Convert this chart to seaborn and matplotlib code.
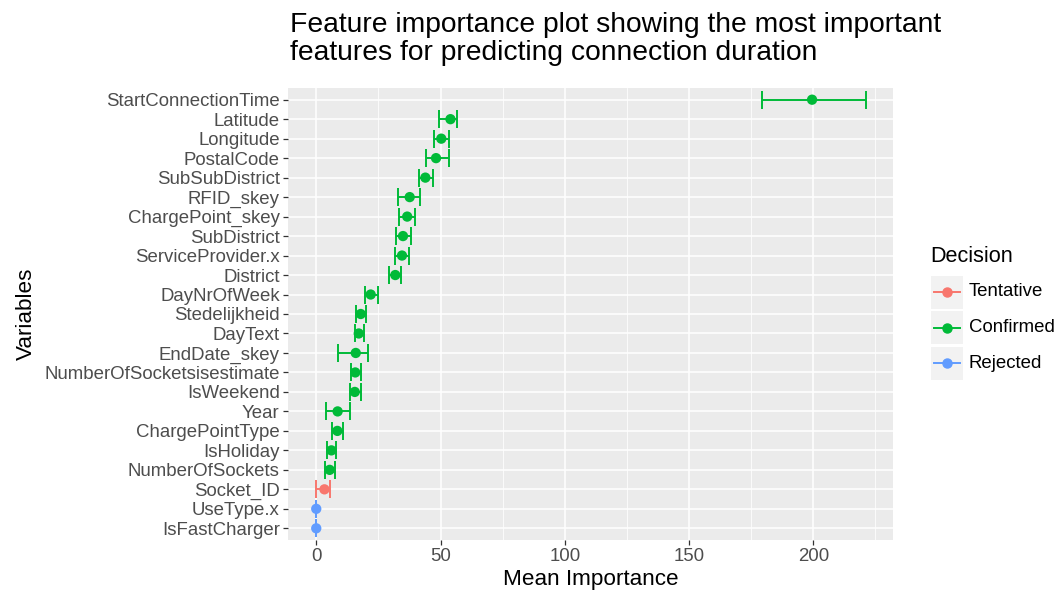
import numpy as np
import matplotlib
matplotlib.use("Agg")
import matplotlib.pyplot as plt
import seaborn as sns
import pandas as pd
from matplotlib.lines import Line2D
from matplotlib.patches import Rectangle

# features ordered from top to bottom of the plot
variables = ["StartConnectionTime", "Latitude", "Longitude", "PostalCode",
             "SubSubDistrict", "RFID_skey", "ChargePoint_skey", "SubDistrict",
             "ServiceProvider.x", "District", "DayNrOfWeek", "Stedelijkheid",
             "DayText", "EndDate_skey", "NumberOfSocketsisestimate", "IsWeekend",
             "Year", "ChargePointType", "IsHoliday", "NumberOfSockets",
             "Socket_ID", "UseType.x", "IsFastCharger"]
mean_imp = [199.5, 54.0, 50.3, 48.2, 43.9, 37.6, 36.6, 34.9, 34.5, 31.8, 21.9,
            17.9, 17.1, 15.9, 15.7, 15.5, 8.6, 8.5, 6.1, 5.4, 3.3, 0.0, 0.0]
low_imp = [179.5, 49.2, 47.4, 44.3, 41.5, 32.8, 33.4, 32.1, 31.8, 29.1, 19.5,
           16.1, 15.6, 8.8, 13.9, 13.6, 3.8, 6.4, 4.5, 3.7, -0.3, 0.0, 0.0]
high_imp = [221.0, 56.6, 53.3, 53.3, 46.8, 41.9, 39.9, 38.1, 37.2, 34.2, 24.9,
            20.0, 19.1, 20.7, 17.9, 17.9, 13.6, 10.7, 8.0, 7.7, 5.4, 0.0, 0.0]
decision = ["Confirmed"] * 20 + ["Tentative", "Rejected", "Rejected"]

decision_levels = ["Tentative", "Confirmed", "Rejected"]
palette = {"Tentative": "#F8766D", "Confirmed": "#00BA38", "Rejected": "#619CFF"}

df = pd.DataFrame({"var": variables, "mean": mean_imp, "low": low_imp,
                   "high": high_imp, "Decision": decision})
df["pos"] = np.arange(len(df))[::-1]

plt.rcParams["font.family"] = ["Liberation Sans", "DejaVu Sans"]

fig = plt.figure(figsize=(10.58, 5.95), dpi=100)
ax = fig.add_axes([288 / 1058, 1 - 540 / 595, (893 - 288) / 1058, (540 - 88) / 595])
ax.set_facecolor("#EBEBEB")

for lvl in decision_levels:
    d = df[df["Decision"] == lvl]
    ax.errorbar(d["mean"], d["pos"],
                xerr=[d["mean"] - d["low"], d["high"] - d["mean"]],
                fmt="none", ecolor=palette[lvl], elinewidth=1.4,
                capsize=6.5, capthick=1.4, zorder=3)

sns.scatterplot(data=df, x="mean", y="pos", hue="Decision",
                hue_order=decision_levels, palette=palette, s=55,
                edgecolor="none", legend=False, ax=ax, zorder=4)

lo, hi = min(low_imp), max(high_imp)
pad = 0.05 * (hi - lo)
ax.set_xlim(lo - pad, hi + pad)
ax.set_ylim(-0.6, len(df) - 0.4)

ax.set_yticks(df["pos"])
ax.set_yticklabels(df["var"])
ax.set_xticks([0, 50, 100, 150, 200])
ax.set_xticks([25, 75, 125, 175, 225], minor=True)

ax.grid(True, which="major", color="white", linewidth=1.1)
ax.grid(True, which="minor", axis="x", color="white", linewidth=0.55)
ax.set_axisbelow(True)
for s in ax.spines.values():
    s.set_visible(False)
ax.tick_params(axis="both", which="major", length=3.5, width=0.9,
               color="#333333", labelcolor="#4D4D4D", labelsize=13.4, pad=2.5)
ax.tick_params(axis="both", which="minor", length=0)

ax.set_xlabel("Mean Importance", fontsize=16.2, color="black", labelpad=3)
ax.set_ylabel("Variables", fontsize=16.2, color="black", labelpad=5)

fig.text(290 / 1058, 1 - 12 / 595,
         "Feature importance plot showing the most important\n"
         "features for predicting connection duration",
         fontsize=20.3, ha="left", va="top", linespacing=1.08)

# legend, ggplot style with grey key boxes
fig.text(930 / 1058, 1 - 257 / 595, "Decision", fontsize=15.6,
         ha="left", va="center")
for i, lvl in enumerate(decision_levels):
    yc = 292 + i * 35.5
    fig.patches.append(Rectangle((931 / 1058, 1 - (yc + 16.5) / 595),
                                 32 / 1058, 33 / 595,
                                 transform=fig.transFigure,
                                 facecolor="#F2F2F2", edgecolor="none"))
    fig.lines.append(Line2D([934 / 1058, 960 / 1058], [1 - yc / 595] * 2,
                            transform=fig.transFigure, color=palette[lvl],
                            linewidth=1.4))
    fig.lines.append(Line2D([947 / 1058], [1 - yc / 595],
                            transform=fig.transFigure, color=palette[lvl],
                            marker="o", markersize=6.5, linestyle="none"))
    fig.text(969 / 1058, 1 - yc / 595, lvl, fontsize=13.4, color="black",
             ha="left", va="center")

fig.savefig("out.png", dpi=100)
